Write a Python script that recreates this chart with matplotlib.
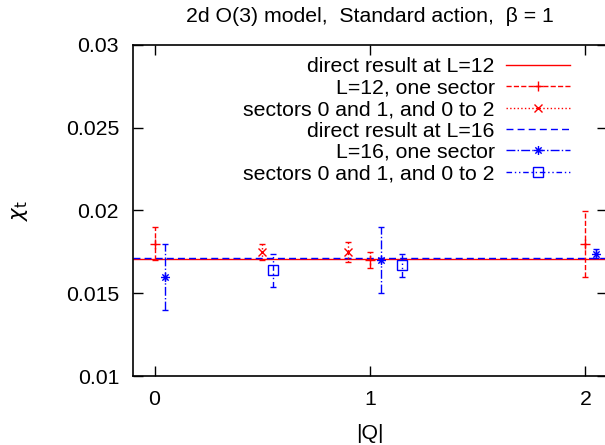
import matplotlib
matplotlib.use("Agg")
import matplotlib.pyplot as plt
from matplotlib.lines import Line2D
from matplotlib.path import Path
import numpy as np

plt.rcParams['font.family'] = ['Liberation Sans', 'DejaVu Sans']
plt.rcParams['mathtext.fontset'] = 'dejavusans'
fs = 15.3

# direct results (horizontal lines)
direct_L12 = 0.01705
direct_L16 = 0.01713

# L=12, one sector
q_L12_one = [0.0, 1.0, 2.0]
chi_L12_one = [0.0180, 0.0170, 0.0180]
err_L12_one = [0.0010, 0.0005, 0.0020]

# L=12, sectors 0 and 1, and 0 to 2
q_L12_sec = [0.5, 0.9]
chi_L12_sec = [0.0175, 0.0175]
err_L12_sec = [0.0005, 0.0006]

# L=16, one sector
q_L16_one = [0.05, 1.05, 2.05]
chi_L16_one = [0.0160, 0.0170, 0.0174]
err_L16_one = [0.0020, 0.0020, 0.0003]

# L=16, sectors 0 and 1, and 0 to 2
q_L16_sec = [0.55, 1.15]
chi_L16_sec = [0.0164, 0.0167]
err_L16_sec = [0.0010, 0.0007]

labels = ["direct result at L=12", "L=12, one sector", "sectors 0 and 1, and 0 to 2",
          "direct result at L=16", "L=16, one sector", "sectors 0 and 1, and 0 to 2"]

# gnuplot-like asterisk: plus + cross
star = Path([(-1, 0), (1, 0), (0, -1), (0, 1), (-0.7, -0.7), (0.7, 0.7), (-0.7, 0.7), (0.7, -0.7)],
            [Path.MOVETO, Path.LINETO] * 4)

red = '#ff0000'
blue = '#0000ff'
dashdotdot = (0, (4, 2, 1, 2, 1, 2))

fig = plt.figure(figsize=(6.05, 4.45), dpi=100)
ax = fig.add_axes([133 / 605, 1 - 376 / 445, 474 / 605, 331 / 445])

ax.axhline(direct_L12, color=red, lw=1, ls='-')
ax.axhline(direct_L16, color=blue, lw=1, ls=(0, (5, 3)))


def errplot(x, y, e, color, marker, ms, ls):
    cont = ax.errorbar(x, y, yerr=e, fmt='none', ecolor=color, elinewidth=1, capsize=2.2, capthick=1)
    cont[2][0].set_linestyle(ls)
    ax.plot(x, y, ls='none', marker=marker, ms=ms, mec=color, mfc='none', mew=1)


errplot(q_L12_one, chi_L12_one, err_L12_one, red, '+', 7, '--')
errplot(q_L12_sec, chi_L12_sec, err_L12_sec, red, 'x', 6, ':')
errplot(q_L16_one, chi_L16_one, err_L16_one, blue, star, 6.5, '-.')
errplot(q_L16_sec, chi_L16_sec, err_L16_sec, blue, 's', 7.5, dashdotdot)

handles = [
    Line2D([], [], color=red, lw=1, ls='-'),
    Line2D([], [], color=red, lw=1, ls='--', marker='+', ms=7, mew=1),
    Line2D([], [], color=red, lw=1, ls=':', marker='x', ms=6, mew=1),
    Line2D([], [], color=blue, lw=1, ls=(0, (5, 3))),
    Line2D([], [], color=blue, lw=1, ls='-.', marker=star, ms=6.5, mew=1),
    Line2D([], [], color=blue, lw=1, ls=dashdotdot, marker='s', ms=7.5, mfc='none', mew=1),
]
ax.legend(handles, labels, loc='upper right', bbox_to_anchor=(570 / 605, 1 - 57.5 / 445),
          bbox_transform=fig.transFigure, frameon=False, markerfirst=False, numpoints=1,
          fontsize=fs, handlelength=3.0, handletextpad=0.55, labelspacing=0.11,
          borderpad=0, borderaxespad=0)

ax.set_xlim(-0.1, 2.1)
ax.set_ylim(0.01, 0.03)
ax.set_xticks([0, 1, 2])
ax.set_yticks([0.01, 0.015, 0.02, 0.025, 0.03])
ax.set_yticklabels(['0.01', '0.015', '0.02', '0.025', '0.03'])
ax.tick_params(direction='in', length=7, width=1, top=True, right=True, labelsize=fs, pad=10)
for s in ax.spines.values():
    s.set_linewidth(1.2)

ax.set_xlabel('|Q|', fontsize=fs, labelpad=11)
ax.set_ylabel(r'$\chi_\mathrm{t}$', fontsize=fs, labelpad=26)
ax.set_title('2d O(3) model,  Standard action,  \u03b2 = 1', fontsize=fs, pad=16.5)

fig.savefig('out.png', dpi=100)
